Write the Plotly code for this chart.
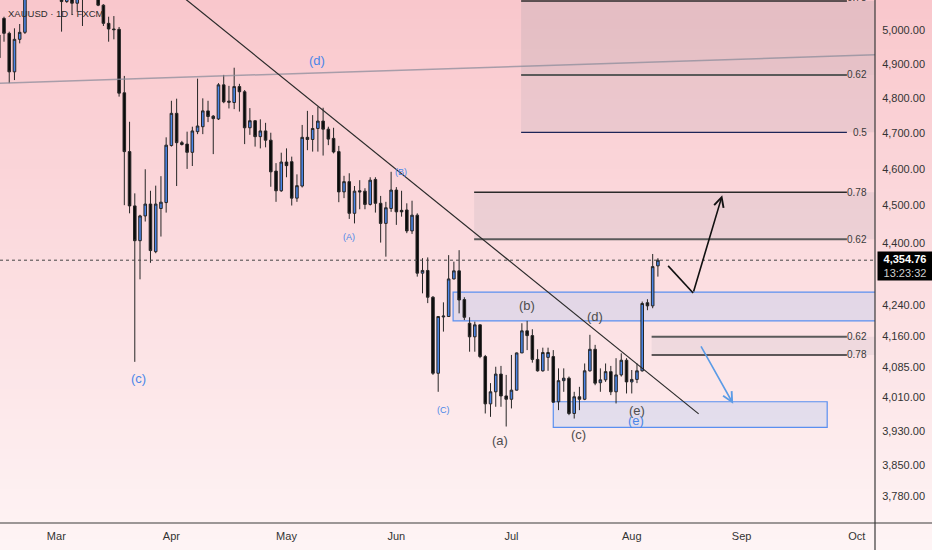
import math
import pandas as pd
import plotly.graph_objects as go

# ---------------- data ----------------
dates = pd.bdate_range("2026-02-13", periods=127) + pd.Timedelta(hours=12)

opens = [4985, 5035, 4990, 4876, 4972, 4993, 5121, 5183, 5160, 5240,
         5185, 5225, 5106, 5086, 5137, 5081, 5152, 5105, 5180, 5115,
         5075, 5020, 5003, 5002, 4815, 4648, 4499, 4406, 4472, 4504,
         4377, 4492, 4508, 4665, 4756, 4673, 4669, 4646, 4704, 4718,
         4763, 4748, 4740, 4838, 4791, 4787, 4833, 4818, 4715, 4735,
         4690, 4706, 4680, 4594, 4540, 4619, 4620, 4520, 4553, 4688,
         4682, 4713, 4734, 4711, 4685, 4648, 4537, 4565, 4479, 4540,
         4539, 4503, 4571, 4506, 4452, 4492, 4542, 4487, 4488, 4432,
         4474, 4321, 4328, 4259, 4069, 4209, 4210, 4306, 4327, 4253,
         4193, 4159, 4189, 4110, 3995, 4024, 4067, 4014, 4006, 4028,
         4119, 4174, 4162, 4103, 4075, 4108, 4110, 4000, 4051, 4057,
         3972, 4012, 4006, 4075, 4128, 4046, 4053, 4073, 4024, 4065,
         4101, 4048, 4054, 4075, 4245, 4237, 4340]
highs = [5015, 5040, 4995, 5005, 5018, 5146, 5214, 5230, 5260, 5275,
         5250, 5240, 5122, 5152, 5146, 5177, 5168, 5200, 5195, 5128,
         5078, 5040, 5042, 5009, 4864, 4732, 4533, 4475, 4599, 4540,
         4554, 4580, 4688, 4792, 4798, 4678, 4704, 4718, 4856, 4799,
         4792, 4751, 4843, 4867, 4835, 4888, 4841, 4823, 4771, 4737,
         4739, 4729, 4701, 4616, 4645, 4657, 4634, 4585, 4723, 4763,
         4751, 4775, 4772, 4718, 4715, 4664, 4581, 4588, 4553, 4569,
         4547, 4577, 4577, 4526, 4510, 4592, 4550, 4540, 4506, 4513,
         4479, 4360, 4362, 4262, 4211, 4246, 4368, 4351, 4381, 4259,
         4208, 4197, 4190, 4114, 4045, 4085, 4087, 4065, 4114, 4120,
         4193, 4199, 4178, 4128, 4132, 4132, 4126, 4081, 4081, 4061,
         4024, 4036, 4093, 4164, 4139, 4081, 4093, 4087, 4106, 4118,
         4106, 4077, 4093, 4248, 4254, 4371, 4360]
lows = [4905, 4965, 4843, 4852, 4960, 4988, 5106, 5150, 5145, 5170,
        5160, 5100, 4995, 5082, 5045, 5055, 5012, 5100, 5100, 5072,
        5012, 4965, 4972, 4804, 4501, 4479, 4097, 4305, 4457, 4348,
        4373, 4417, 4481, 4662, 4553, 4665, 4600, 4608, 4697, 4697,
        4731, 4641, 4737, 4785, 4770, 4768, 4761, 4669, 4695, 4662,
        4657, 4660, 4551, 4510, 4537, 4577, 4500, 4510, 4549, 4652,
        4648, 4648, 4637, 4666, 4643, 4509, 4520, 4464, 4452, 4490,
        4490, 4500, 4481, 4401, 4364, 4483, 4448, 4470, 4426, 4424,
        4312, 4269, 4244, 4065, 4024, 4172, 4209, 4305, 4218, 4201,
        4122, 4122, 4106, 3972, 3964, 3988, 3988, 3941, 3984, 4027,
        4119, 4126, 4095, 4073, 4073, 4075, 3998, 3980, 4024, 3968,
        3960, 3980, 4004, 4073, 4040, 4024, 4048, 4016, 3996, 4061,
        4020, 4020, 4045, 4073, 4226, 4231, 4312]
closes = [4917, 4990, 4876, 4972, 4993, 5121, 5183, 5160, 5240, 5185,
          5225, 5110, 5086, 5137, 5081, 5152, 5097, 5180, 5115, 5075,
          5020, 5003, 5001, 4814, 4648, 4499, 4406, 4472, 4504, 4380,
          4504, 4509, 4666, 4756, 4673, 4668, 4646, 4706, 4720, 4763,
          4747, 4741, 4838, 4789, 4788, 4833, 4818, 4715, 4735, 4690,
          4706, 4680, 4592, 4540, 4619, 4609, 4520, 4554, 4688, 4682,
          4713, 4734, 4711, 4683, 4647, 4537, 4565, 4479, 4539, 4537,
          4503, 4569, 4506, 4452, 4494, 4542, 4483, 4483, 4432, 4474,
          4321, 4328, 4259, 4069, 4210, 4211, 4306, 4327, 4252, 4208,
          4159, 4189, 4110, 3995, 4024, 4067, 4014, 4006, 4028, 4119,
          4174, 4162, 4103, 4075, 4120, 4120, 3999, 4051, 4057, 3972,
          4012, 4006, 4075, 4128, 4045, 4053, 4073, 4024, 4065, 4101,
          4048, 4054, 4075, 4243, 4237, 4338, 4354.76]

countdown = "13:23:32"
symbol_title = "XAUUSD · 1D · FXCM"

price_ticks = [3780, 3850, 3930, 4010, 4085, 4160, 4240, 4400, 4500,
               4600, 4700, 4800, 4900, 5000]
price_tick_text = [f"{v:,.2f}" for v in price_ticks]
month_ticks = ["2026-03-02 12:00", "2026-04-01 12:00", "2026-05-01 12:00",
               "2026-06-01 12:00", "2026-07-01 12:00", "2026-08-03 12:00",
               "2026-09-01 12:00", "2026-10-01 12:00"]
month_labels = ["Mar", "Apr", "May", "Jun", "Jul", "Aug", "Sep", "Oct"]
x_view = ["2026-02-13 17:38", "2026-10-07 00:00"]
y_view = [3719.3, 5090.8]

# analyst drawings: (time, price)
box_b = ["2026-06-16 08:24", "2026-12-31 00:00", 4199, 4272]
box_e = ["2026-07-13 12:00", "2026-09-23 20:38", 3939, 4000]
fib_top_start = "2026-07-03 08:24"
fib_top_levels = ["0.5", "0.62", "0.78"]
fib_top_prices = [4702, 4867, 5088]
fib_mid_start = "2026-06-22 08:53"
fib_mid_levels = ["0.62", "0.78"]
fib_mid_prices = [4410, 4536]
fib_low_start = "2026-08-07 07:12"
fib_low_levels = ["0.62", "0.78"]
fib_low_prices = [4159, 4114]
fib_line_end = "2026-09-29 15:07"
zone_end = "2026-12-31 00:00"
trend_down = [("2026-03-30 16:48", 5152), ("2026-08-20 07:00", 3971)]
line_d = [("2026-02-13 17:38", 4843), ("2026-10-07 00:00", 4926)]
path_up = [("2026-08-12 11:00", 4340), ("2026-08-19 05:46", 4270),
           ("2026-08-26 19:12", 4528)]
path_down = [("2026-08-20 13:55", 4139), ("2026-08-28 21:22", 3995)]

BLUE_T = "#4a86e8"
GREY_T = "#4d4d4d"
wave_labels = [
    ("(c)", "2026-03-24 02:53", 4057, BLUE_T, 13),
    ("(d)", "2026-05-11 08:24", 4908, BLUE_T, 13),
    ("(A)", "2026-05-19 11:17", 4416, BLUE_T, 9),
    ("(B)", "2026-06-02 09:50", 4591, BLUE_T, 9),
    ("(C)", "2026-06-12 10:34", 3980, BLUE_T, 9),
    ("(a)", "2026-06-29 08:10", 3909, GREY_T, 13),
    ("(b)", "2026-07-06 12:00", 4239, GREY_T, 13),
    ("(c)", "2026-07-20 06:00", 3923, GREY_T, 13),
    ("(d)", "2026-07-23 12:00", 4211, GREY_T, 13),
    ("(e)", "2026-08-04 12:40", 3978, GREY_T, 13),
    ("(e)", "2026-08-04 08:10", 3956, BLUE_T, 13),
]


def ly(p):
    # annotations on a log axis are positioned in log10 units
    return math.log10(p)


# ---------------- figure ----------------
FONT = "Liberation Sans, Arial, sans-serif"
W, H = 932, 550
ML, MR, MT, MB = 0, 57, 0, 27
plot_h = H - MT - MB
plot_w = W - ML - MR

fig = go.Figure()
fig.add_trace(go.Candlestick(
    x=dates, open=opens, high=highs, low=lows, close=closes,
    increasing=dict(fillcolor=BLUE_T, line=dict(color="#262626", width=1)),
    decreasing=dict(fillcolor="#0a0a0a", line=dict(color="#262626", width=1)),
    whiskerwidth=0, showlegend=False, hoverinfo="skip"))

shapes = []
# background gradient (style)
n_bands = 55
top_c = (249, 199, 204)
bot_c = (254, 244, 245)
y_bottom_paper = -(MB / plot_h)
for k in range(n_bands):
    t = (k + 0.5) / n_bands
    c = tuple(round(top_c[j] + (bot_c[j] - top_c[j]) * t) for j in range(3))
    y1 = 1 - k * (H / n_bands) / plot_h
    y0 = 1 - (k + 1) * (H / n_bands) / plot_h
    shapes.append(dict(type="rect", xref="paper", yref="paper", x0=0, x1=W / plot_w,
                       y0=y0 - 0.002, y1=y1 + 0.002, fillcolor=f"rgb{c}",
                       line=dict(width=0), layer="below"))

# fib zones
shade_dark = "rgba(150,150,162,0.20)"
shade_light = "rgba(150,150,162,0.14)"
shapes.append(dict(type="rect", xref="x", yref="y", x0=fib_top_start, x1=zone_end,
                   y0=fib_top_prices[1], y1=fib_top_prices[2], fillcolor=shade_dark,
                   line=dict(width=0), layer="below"))
shapes.append(dict(type="rect", xref="x", yref="y", x0=fib_top_start, x1=zone_end,
                   y0=fib_top_prices[0], y1=fib_top_prices[1], fillcolor=shade_light,
                   line=dict(width=0), layer="below"))
shapes.append(dict(type="rect", xref="x", yref="y", x0=fib_mid_start, x1=zone_end,
                   y0=fib_mid_prices[0], y1=fib_mid_prices[1], fillcolor=shade_light,
                   line=dict(width=0), layer="below"))
shapes.append(dict(type="rect", xref="x", yref="y", x0=fib_low_start, x1=zone_end,
                   y0=fib_low_prices[1], y1=fib_low_prices[0], fillcolor="rgba(150,150,162,0.12)",
                   line=dict(width=0), layer="below"))

# blue boxes
for bx in (box_b, box_e):
    shapes.append(dict(type="rect", xref="x", yref="y", x0=bx[0], x1=bx[1],
                       y0=bx[2], y1=bx[3], fillcolor="rgba(176,196,240,0.33)",
                       line=dict(color="#5a8ff0", width=1.2), layer="below"))

# fib lines
level_style = {"0.5": ("#1d2457", 1.2), "0.62": ("#5a5a5a", 2), "0.78": ("#2a2a2a", 1.5)}
for start, levels, prices in ((fib_top_start, fib_top_levels, fib_top_prices),
                              (fib_mid_start, fib_mid_levels, fib_mid_prices),
                              (fib_low_start, fib_low_levels, fib_low_prices)):
    for lv, pr in zip(levels, prices):
        col, wd = level_style[lv]
        shapes.append(dict(type="line", xref="x", yref="y", x0=start, x1=fib_line_end,
                           y0=pr, y1=pr, line=dict(color=col, width=wd)))

# trend lines
shapes.append(dict(type="line", xref="x", yref="y",
                   x0=line_d[0][0], y0=line_d[0][1], x1=line_d[1][0], y1=line_d[1][1],
                   line=dict(color="rgba(140,140,155,0.75)", width=1.5)))
shapes.append(dict(type="line", xref="x", yref="y",
                   x0=trend_down[0][0], y0=trend_down[0][1],
                   x1=trend_down[1][0], y1=trend_down[1][1],
                   line=dict(color="#2a2a2a", width=1.2)))
# projected path first leg
shapes.append(dict(type="line", xref="x", yref="y",
                   x0=path_up[0][0], y0=path_up[0][1], x1=path_up[1][0], y1=path_up[1][1],
                   line=dict(color="#111111", width=1.6)))

# current price dotted line
shapes.append(dict(type="line", xref="paper", yref="y", x0=0, x1=1,
                   y0=closes[-1], y1=closes[-1],
                   line=dict(color="#444444", width=1, dash="dot")))

# axis frame lines
shapes.append(dict(type="line", xref="paper", yref="paper", x0=0, x1=W / plot_w,
                   y0=0, y1=0, line=dict(color="#3a3a3a", width=1.2)))
shapes.append(dict(type="line", xref="paper", yref="paper", x0=1, x1=1,
                   y0=y_bottom_paper, y1=1, line=dict(color="#3a3a3a", width=1.2)))

annotations = []
# arrows
annotations.append(dict(x=path_up[2][0], y=ly(path_up[2][1]),
                        ax=path_up[1][0], ay=ly(path_up[1][1]),
                        xref="x", yref="y", axref="x", ayref="y", text="", showarrow=True,
                        arrowhead=5, arrowsize=1.2, arrowwidth=1.6, arrowcolor="#111111"))
annotations.append(dict(x=path_down[1][0], y=ly(path_down[1][1]),
                        ax=path_down[0][0], ay=ly(path_down[0][1]),
                        xref="x", yref="y", axref="x", ayref="y", text="", showarrow=True,
                        arrowhead=5, arrowsize=1.2, arrowwidth=1.6, arrowcolor="#5b9be6"))

# wave labels
for txt, xd, yp, col, sz in wave_labels:
    annotations.append(dict(x=xd, y=ly(yp), xref="x", yref="y", text=txt, showarrow=False,
                            xanchor="center", yanchor="middle",
                            font=dict(family=FONT, size=sz, color=col)))

# fib labels
fib_label_x = (plot_w - 6) / plot_w
for levels, prices in ((fib_top_levels, fib_top_prices), (fib_mid_levels, fib_mid_prices),
                       (fib_low_levels, fib_low_prices)):
    for lv, pr in zip(levels, prices):
        annotations.append(dict(x=fib_label_x, y=ly(pr), xref="paper", yref="y", text=lv,
                                showarrow=False, xanchor="right", yanchor="middle",
                                yshift=3 if pr == fib_top_prices[-1] else 0,
                                font=dict(family=FONT, size=10, color="#3a3a3a")))

# title
annotations.append(dict(x=6 / plot_w, y=1 - 14 / plot_h, xref="paper", yref="paper",
                        text=symbol_title, showarrow=False, xanchor="left", yanchor="middle",
                        font=dict(family=FONT, size=9.5, color="#2a2a2a")))
# price label box
annotations.append(dict(x=1, y=ly(closes[-1]), xref="paper", yref="y",
                        text=f"<b>{closes[-1]:,.2f}</b><br><span style='color:#cfcfcf'>{countdown}</span>",
                        showarrow=False, xanchor="left", yanchor="top", yshift=9, xshift=2,
                        bgcolor="#000000", borderpad=1, width=52, align="center",
                        font=dict(family=FONT, size=11, color="#ffffff")))

fig.update_layout(
    width=W, height=H,
    margin=dict(l=ML, r=MR, t=MT, b=MB),
    paper_bgcolor="#fbe4e6", plot_bgcolor="rgba(0,0,0,0)",
    shapes=shapes, annotations=annotations,
    font=dict(family=FONT, color="#333333"),
    showlegend=False,
    xaxis=dict(type="date", range=x_view, rangeslider=dict(visible=False),
               rangebreaks=[dict(bounds=["sat", "mon"])],
               tickvals=month_ticks, ticktext=month_labels, showgrid=False,
               zeroline=False, showline=False, ticks="outside", ticklen=3,
               tickcolor="rgba(0,0,0,0)", tickfont=dict(family=FONT, size=11, color="#333333")),
    yaxis=dict(type="log", side="right", range=[3.570460, 3.706786],
               tickvals=price_ticks, ticktext=price_tick_text, showgrid=False,
               zeroline=False, showline=False, ticks="outside", ticklen=4,
               tickcolor="rgba(0,0,0,0)", tickfont=dict(family=FONT, size=11, color="#333333")),
)

fig.write_html("out.html", config={"displayModeBar": False},
               post_script="document.body.style.margin='0px';")
